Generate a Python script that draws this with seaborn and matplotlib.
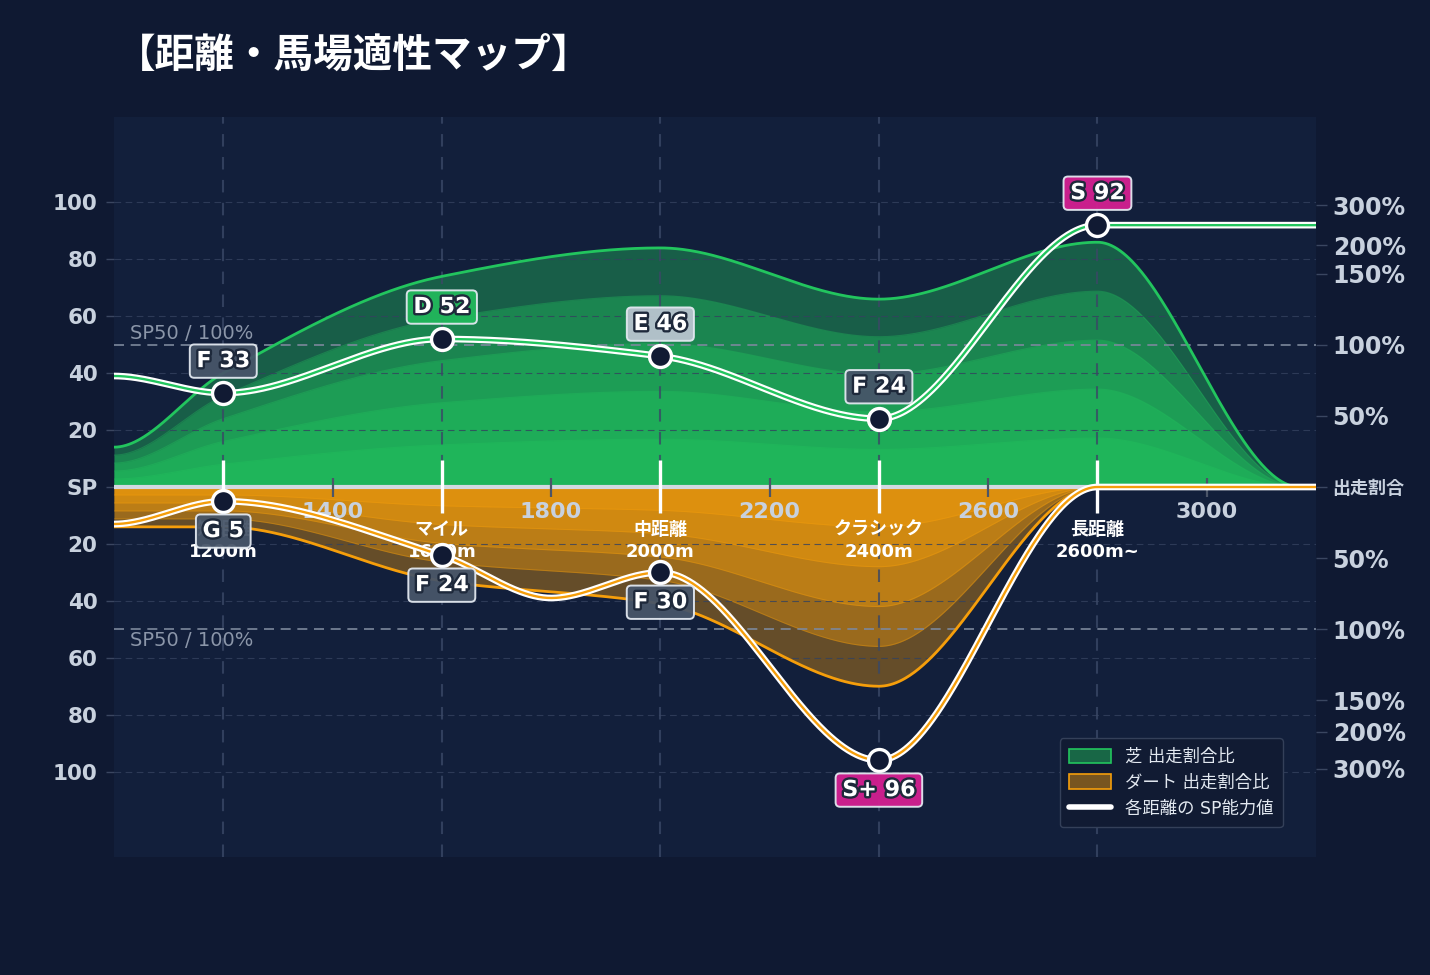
import numpy as np
import seaborn as sns
import matplotlib.pyplot as plt
import matplotlib.patheffects as pe
from matplotlib.patches import Patch
from matplotlib.lines import Line2D

# ---- data ----
cat_dist = [1200, 1600, 2000, 2400, 2800]
cat_names = ['短距離', 'マイル', '中距離', 'クラシック', '長距離']
cat_meters = ['1200m', '1600m', '2000m', '2400m', '2600m~']
tick_dist = [1400, 1800, 2200, 2600, 3000]

turf_sp = [33, 52, 46, 24, 92]
turf_grade = ['F', 'D', 'E', 'F', 'S']
dirt_sp = [5, 24, 30, 96]
dirt_grade = ['G', 'F', 'F', 'S+']

# curve nodes (SP line and run-share envelopes)
turf_line_x = [1000, 1200, 1600, 2000, 2400, 2800, 3200]
turf_line_y = [39, 33, 52, 46, 24, 92, 92]
dirt_line_x = [1000, 1200, 1600, 1800, 2000, 2400, 2800, 3200]
dirt_line_y = [13, 5, 24, 39, 30, 96, 0, 0]
turf_share_x = [1000, 1200, 1600, 2000, 2400, 2800, 3170, 3200]
turf_share_y = [14, 40, 74, 84, 66, 86, 0, 0]
dirt_share_x = [1000, 1200, 1600, 2000, 2400, 2800, 3200]
dirt_share_y = [14, 14, 33, 41, 70, 0, 0]

pct_ticks = [99, 85, 75, 50, 25, 0, -25, -50, -75, -86, -99]
pct_labels = ['300%', '200%', '150%', '100%', '50%', '出走割合',
              '50%', '100%', '150%', '200%', '300%']

GREEN = '#22c55e'
ORANGE = '#f59e0b'
BG = '#0f1932'
PANEL = '#121f3b'
TXT = '#c8d1de'
grade_color = {'G': '#475569', 'F': '#475569', 'E': '#b9c4cf',
               'D': '#22b85c', 'S': '#d41f91', 'S+': '#d41f91'}


def pchip(xk, yk, xs):
    xk = np.asarray(xk, float)
    yk = np.asarray(yk, float)
    h = np.diff(xk)
    dl = np.diff(yk) / h
    d = np.zeros(len(xk))
    for k in range(1, len(xk) - 1):
        if dl[k - 1] * dl[k] > 0:
            w1 = 2 * h[k] + h[k - 1]
            w2 = h[k] + 2 * h[k - 1]
            d[k] = (w1 + w2) / (w1 / dl[k - 1] + w2 / dl[k])
    i = np.clip(np.searchsorted(xk, xs, side='right') - 1, 0, len(xk) - 2)
    t = (xs - xk[i]) / h[i]
    return ((2 * t**3 - 3 * t**2 + 1) * yk[i] + (t**3 - 2 * t**2 + t) * h[i] * d[i]
            + (3 * t**2 - 2 * t**3) * yk[i + 1] + (t**3 - t**2) * h[i] * d[i + 1])


sns.set_theme(style='dark')
plt.rcParams['font.family'] = ['DejaVu Sans', 'Noto Sans CJK JP']

fig = plt.figure(figsize=(14.3, 9.75), dpi=100, facecolor=BG)
ax = fig.add_axes([114 / 1430, 1 - 857 / 975, 1202 / 1430, 740 / 975])
ax.set_facecolor(PANEL)
ax.set_xlim(1000, 3200)
ax.set_ylim(-130, 130)

xs = np.linspace(1000, 3200, 800)
turf_env = pchip(turf_share_x, turf_share_y, xs)
dirt_env = -pchip(dirt_share_x, dirt_share_y, xs)

for f in [1.0, 0.8, 0.6, 0.4, 0.2]:
    ax.fill_between(xs, 0, f * turf_env, color=GREEN, alpha=0.38, lw=0, zorder=1)
    ax.fill_between(xs, 0, f * dirt_env, color=ORANGE, alpha=0.37, lw=0, zorder=1)
    if f < 1:
        ax.plot(xs, f * turf_env, color=GREEN, lw=0.8, alpha=0.35, zorder=1.5)
        ax.plot(xs, f * dirt_env, color=ORANGE, lw=0.8, alpha=0.35, zorder=1.5)
ax.plot(xs, turf_env, color=GREEN, lw=2, zorder=2.5)
ax.plot(xs, dirt_env, color=ORANGE, lw=2, zorder=2.5)

# grid
for v in [20, 40, 60, 80, 100]:
    for s in (1, -1):
        ax.axhline(s * v, color='#34425f', lw=0.8, ls=(0, (6, 4)), alpha=0.8, zorder=2)
for x in cat_dist:
    ax.axvline(x, color='#3a4866', lw=1.5, ls=(0, (6, 5)), alpha=0.8, zorder=2)
for s in (1, -1):
    ax.axhline(s * 50, color='#7c889c', lw=1.2, ls=(0, (6, 4)), zorder=2.2)
ax.text(1030, 54, 'SP50 / 100%', color='#8b96a9', fontsize=14, va='center', zorder=4)
ax.text(1030, -54, 'SP50 / 100%', color='#8b96a9', fontsize=14, va='center', zorder=4)

ax.axhline(0, color='#d3d9e1', lw=3, zorder=3)
ax.vlines(tick_dist, -3.5, 3.3, color='#4b5568', lw=1.6, zorder=3.2)
ax.vlines(cat_dist, -9, 9.5, color='white', lw=2.4, zorder=3.2)

for x in tick_dist:
    ax.text(x, -8.8, str(x), ha='center', va='center', fontsize=16,
            weight='bold', color=TXT, zorder=3.5)
for x, n, m in zip(cat_dist, cat_names, cat_meters):
    ax.text(x, -15.0, n, ha='center', va='center', fontsize=13, weight='bold',
            color='white', zorder=3.5)
    ax.text(x, -22.8, m, ha='center', va='center', fontsize=13, weight='bold',
            color='white', zorder=3.5)

# SP lines
turf_line = pchip(turf_line_x, turf_line_y, xs)
dirt_line = -pchip(dirt_line_x, dirt_line_y, xs)
sns.lineplot(x=xs, y=turf_line, color='white', lw=4.8, ax=ax, zorder=5, sort=False)
sns.lineplot(x=xs, y=turf_line, color=GREEN, lw=1.7, ax=ax, zorder=5.1, sort=False)
sns.lineplot(x=xs, y=dirt_line, color='white', lw=4.8, ax=ax, zorder=5, sort=False)
sns.lineplot(x=xs, y=dirt_line, color=ORANGE, lw=1.7, ax=ax, zorder=5.1, sort=False)

mx = cat_dist + cat_dist[:4]
my = turf_sp + [-v for v in dirt_sp]
sns.scatterplot(x=mx, y=my, s=250, color='#111a33', edgecolor='white',
                linewidth=2.4, ax=ax, zorder=6)

stroke = [pe.withStroke(linewidth=3.4, foreground='#1e293b')]
box_kw = dict(boxstyle='round,pad=0.3,rounding_size=0.2', ec='#e2e8f0', lw=1.4, alpha=0.95)
for x, v, g in zip(cat_dist, turf_sp, turf_grade):
    ax.annotate(f'{g} {v}', (x, v), xytext=(0, 23), textcoords='offset points',
                ha='center', va='center', fontsize=16, weight='bold', color='white',
                path_effects=stroke, zorder=7, bbox=dict(fc=grade_color[g], **box_kw))
for x, v, g in zip(cat_dist, dirt_sp, dirt_grade):
    ax.annotate(f'{g} {v}', (x, -v), xytext=(0, -21.5), textcoords='offset points',
                ha='center', va='center', fontsize=16, weight='bold', color='white',
                path_effects=stroke, zorder=7, bbox=dict(fc=grade_color[g], **box_kw))

# axes
ax.set_xticks([])
ax.set_yticks([100, 80, 60, 40, 20, 0, -20, -40, -60, -80, -100])
ax.set_yticklabels(['100', '80', '60', '40', '20', 'SP', '20', '40', '60', '80', '100'])
ax.tick_params(axis='y', length=6, width=1, color='#3a4660', labelcolor=TXT,
               labelsize=15.5, pad=6, left=True)
for lab in ax.get_yticklabels():
    lab.set_fontweight('bold')
for sp in ax.spines.values():
    sp.set_visible(False)
ax.grid(False)

ax2 = ax.twinx()
ax2.set_ylim(-130, 130)
ax2.set_yticks(pct_ticks)
ax2.set_yticklabels(pct_labels)
ax2.tick_params(axis='y', length=8, width=1, color='#3a4660', labelcolor=TXT,
                labelsize=17, pad=4, right=True)
for lab in ax2.get_yticklabels():
    lab.set_fontweight('bold')
    if lab.get_text() == '出走割合':
        lab.set_fontsize(13)
for sp in ax2.spines.values():
    sp.set_visible(False)
ax2.grid(False)

handles = [Patch(fc=(0.13, 0.77, 0.37, 0.45), ec=GREEN, lw=1.2),
           Patch(fc=(0.96, 0.62, 0.04, 0.45), ec=ORANGE, lw=1.2),
           Line2D([0], [0], color='white', lw=4)]
leg = ax.legend(handles, ['芝 出走割合比', 'ダート 出走割合比', '各距離の SP能力値'],
                loc='lower right', bbox_to_anchor=(0.9725, 0.0405), borderaxespad=0,
                fontsize=12.5, labelcolor='#e2e8f0', facecolor='#111b33',
                edgecolor='#344059', framealpha=1, handlelength=2.4,
                handleheight=0.9, borderpad=0.55, labelspacing=0.45, fancybox=True)
leg.set_zorder(8)

fig.text(116 / 1430, 1 - 55 / 975, '【距離・馬場適性マップ】', fontsize=28.5,
         weight='bold', color='white', va='center', ha='left',
         family=['Noto Sans CJK JP', 'DejaVu Sans'])

fig.savefig('out.png', dpi=100, facecolor=BG)
